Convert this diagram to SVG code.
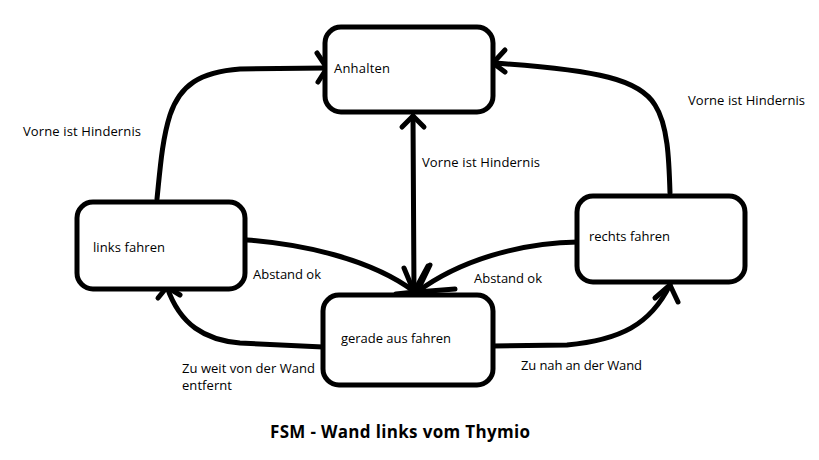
<svg xmlns="http://www.w3.org/2000/svg" width="819" height="460" viewBox="0 0 819 460">
<style>
.box{fill:#fff;stroke:#000;stroke-width:5}
.ln{fill:none;stroke:#000;stroke-width:5;stroke-linecap:round;stroke-linejoin:round}
.t{font-family:"Open Sans","Noto Sans","Liberation Sans",sans-serif;font-size:13px;fill:#000}
.title{font-family:"Open Sans","Noto Sans","Liberation Sans",sans-serif;font-size:17px;font-weight:bold;fill:#000}
</style>
<rect width="819" height="460" fill="#fff"/>
<g id="connectors">
<path class="ln" d="M157,199 C160,170 162,140 170,115 C180,85 200,72 240,69 L327,68"/>
<path class="ln" d="M317,53 L327,68 L318,82"/>
<path class="ln" d="M670,193 C669,160 668,125 655,105 C640,80 600,70 493,63"/>
<path class="ln" d="M505,50 L493,63 L505,72"/>
<path class="ln" d="M413,116 L414,292"/>
<path class="ln" d="M402,127 L413,116 L424,127"/>
<path class="ln" d="M404,268 L414,292 L428,266"/>
<path class="ln" d="M247,240 C300,244 370,258 415,292"/>
<path class="ln" d="M396,294 L415,292"/>
<path class="ln" d="M578,242 C520,243 460,260 417,292"/>
<path class="ln" d="M430,265 L417,292 L455,289"/>
<path class="ln" d="M323,347 L240,343 C205,340 180,325 167,287"/>
<path class="ln" d="M158,298 L167,287 L180,295"/>
<path class="ln" d="M493,346 L567,345 C620,340 650,325 670,285"/>
<path class="ln" d="M655,298 L670,285 L678,302"/>
</g>
<g id="node-anhalten">
<rect class="box" x="325" y="27" width="168" height="85" rx="16"/>
<text class="t" x="334" y="73" textLength="56">Anhalten</text>
</g>
<g id="node-links">
<rect class="box" x="77" y="202" width="168" height="87" rx="16"/>
<text class="t" x="93" y="252" textLength="72">links fahren</text>
</g>
<g id="node-gerade">
<rect class="box" x="323" y="295" width="170" height="90" rx="16"/>
<text class="t" x="341" y="343" textLength="110">gerade aus fahren</text>
</g>
<g id="node-rechts">
<rect class="box" x="577" y="196" width="168" height="86" rx="16"/>
<text class="t" x="589" y="241" textLength="81">rechts fahren</text>
</g>
<g id="labels">
<text class="t" x="23" y="136" textLength="118">Vorne ist Hindernis</text>
<text class="t" x="688" y="105" textLength="117">Vorne ist Hindernis</text>
<text class="t" x="422" y="167" textLength="118">Vorne ist Hindernis</text>
<text class="t" x="253" y="279" textLength="68">Abstand ok</text>
<text class="t" x="474" y="283" textLength="68">Abstand ok</text>
<text class="t" x="182" y="373" textLength="133">Zu weit von der Wand</text>
<text class="t" x="182" y="390" textLength="50">entfernt</text>
<text class="t" x="521" y="370" textLength="121">Zu nah an der Wand</text>
<text class="title" x="270" y="438" textLength="260">FSM - Wand links vom Thymio</text>
</g>
</svg>
